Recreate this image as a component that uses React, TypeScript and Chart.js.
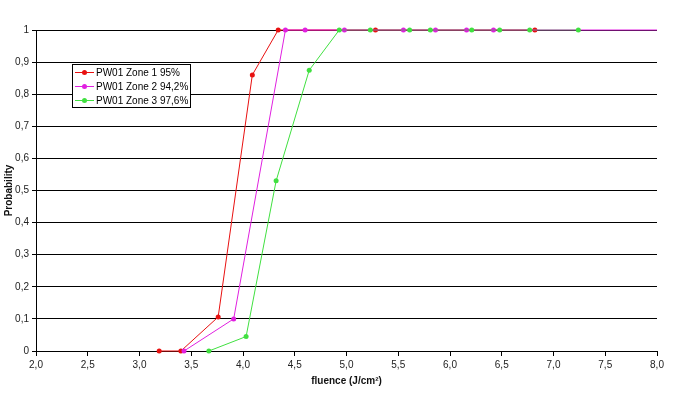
import React, { useEffect, useRef } from 'react';
import { Chart, registerables } from 'chart.js';

Chart.register(...registerables);

const seriesLabels = ['PW01 Zone 1 95%', 'PW01 Zone 2 94,2%', 'PW01 Zone 3 97,6%'];

const zone1Fluence = [3.19, 3.40, 3.76, 4.09, 4.34, 5.28, 6.82];
const zone1Prob = [0, 0, 0.106, 0.86, 1, 1, 1];

const zone2Fluence = [3.43, 3.91, 4.41, 4.60, 4.98, 5.55, 5.86, 6.16, 6.42, 8.0];
const zone2Prob = [0, 0.10, 1, 1, 1, 1, 1, 1, 1, 1];

const zone3Fluence = [3.67, 4.03, 4.32, 4.64, 4.93, 5.23, 5.61, 5.81, 6.21, 6.48, 6.77, 7.24];
const zone3Prob = [0, 0.045, 0.53, 0.875, 1, 1, 1, 1, 1, 1, 1, 1];

const xMin = 2.0;
const xMax = 8.0;
const xStep = 0.5;
const yMin = 0;
const yMax = 1;
const yStep = 0.1;

const xTitle = 'fluence (J/cm²)';
const yTitle = 'Probability';

const FONT = '"Liberation Sans", Arial, sans-serif';

const fmtComma = (v: number, d: number) => v.toFixed(d).replace('.', ',');

const toPoints = (xs: number[], ys: number[]) => xs.map((x, i) => ({ x, y: ys[i] }));

const legendBox = {
  id: 'legendBox',
  afterDatasetsDraw(chart: any) {
    const ctx = chart.ctx;
    const x = 72, y = 64, w = 118, h = 43;
    ctx.save();
    ctx.fillStyle = '#ffffff';
    ctx.fillRect(x, y, w, h);
    ctx.strokeStyle = '#000';
    ctx.lineWidth = 1;
    ctx.strokeRect(x + 0.5, y + 0.5, w, h);
    chart.data.datasets.forEach((ds: any, i: number) => {
      const cy = y + 8 + i * 14;
      ctx.strokeStyle = ds.borderColor;
      ctx.lineWidth = 1;
      ctx.beginPath();
      ctx.moveTo(x + 3, cy + 0.5);
      ctx.lineTo(x + 22, cy + 0.5);
      ctx.stroke();
      ctx.fillStyle = ds.pointBackgroundColor;
      ctx.beginPath();
      ctx.arc(x + 12.5, cy + 0.5, 2.5, 0, Math.PI * 2);
      ctx.fill();
      ctx.fillStyle = '#000';
      ctx.font = '10px ' + FONT;
      ctx.textBaseline = 'middle';
      ctx.textAlign = 'left';
      ctx.fillText(ds.label, x + 24, cy + 1);
    });
    ctx.restore();
  },
};

export default function App() {
  const ref = useRef<HTMLCanvasElement | null>(null);

  useEffect(() => {
    if (!ref.current) return;
    const red = '#e81010';
    const magenta = '#e020e0';
    const green = '#40e040';
    const chart = new Chart(ref.current, {
      type: 'line',
      data: {
        datasets: [
          {
            label: seriesLabels[0],
            data: toPoints(zone1Fluence, zone1Prob),
            borderColor: red,
            backgroundColor: red,
            pointBackgroundColor: red,
            pointBorderColor: red,
            borderWidth: 1,
            pointRadius: 2.5,
            pointBorderWidth: 0,
            clip: false,
            order: 3,
          },
          {
            label: seriesLabels[1],
            data: toPoints(zone2Fluence, zone2Prob),
            borderColor: magenta,
            backgroundColor: magenta,
            pointBackgroundColor: magenta,
            pointBorderColor: magenta,
            borderWidth: 1,
            pointRadius: zone2Fluence.map((v) => (v >= xMax ? 0 : 2.5)),
            pointBorderWidth: 0,
            clip: false,
            order: 2,
          },
          {
            label: seriesLabels[2],
            data: toPoints(zone3Fluence, zone3Prob),
            borderColor: green,
            backgroundColor: green,
            pointBackgroundColor: green,
            pointBorderColor: green,
            borderWidth: 1,
            pointRadius: 2.5,
            pointBorderWidth: 0,
            clip: false,
            order: 1,
            segment: {
              borderColor: (c: any) =>
                c.p0.parsed.y === 1 && c.p1.parsed.y === 1 ? 'rgba(40,200,40,0.5)' : undefined,
            },
          } as any,
        ],
      },
      options: {
        animation: false,
        responsive: false,
        maintainAspectRatio: false,
        layout: { padding: { top: 30, right: 27, left: 0, bottom: 0 } },
        plugins: {
          legend: { display: false },
          tooltip: { enabled: false },
        },
        elements: { line: { tension: 0 } },
        scales: {
          x: {
            type: 'linear',
            min: xMin,
            max: xMax,
            afterFit: (s: any) => {
              s.height = 47;
            },
            ticks: {
              stepSize: xStep,
              color: '#222',
              font: { family: FONT, size: 10 },
              padding: 3,
              maxRotation: 0,
              callback: (v: any) => fmtComma(Number(v), 1),
            },
            grid: {
              drawOnChartArea: false,
              drawTicks: true,
              tickLength: 5,
              color: '#000',
              lineWidth: 1,
            },
            border: { display: true, color: '#000', width: 1 },
            title: {
              display: true,
              text: xTitle,
              color: '#111',
              font: { family: FONT, size: 10, weight: 'bold' },
              padding: { top: 0, bottom: 11 },
            },
          },
          y: {
            type: 'linear',
            min: yMin,
            max: yMax,
            afterFit: (s: any) => {
              s.width = 36;
            },
            ticks: {
              stepSize: yStep,
              color: '#222',
              font: { family: FONT, size: 10 },
              padding: 3,
              callback: (v: any) => {
                const n = Number(v);
                if (Math.abs(n) < 1e-9) return '0';
                if (Math.abs(n - 1) < 1e-9) return '1';
                return fmtComma(n, 1);
              },
            },
            grid: {
              color: '#000',
              lineWidth: 1,
              drawTicks: true,
              tickLength: 4,
            },
            border: { display: true, color: '#000', width: 1 },
            title: {
              display: true,
              text: yTitle,
              color: '#111',
              font: { family: FONT, size: 10, weight: 'bold' },
              padding: { top: 3, bottom: 0 },
            },
          },
        },
      },
      plugins: [legendBox],
    });
    return () => chart.destroy();
  }, []);

  return (
    <div style={{ position: 'fixed', left: 0, top: 0, width: 684, height: 398, background: '#fff' }}>
      <canvas ref={ref} width={684} height={398} style={{ display: 'block' }} />
    </div>
  );
}
